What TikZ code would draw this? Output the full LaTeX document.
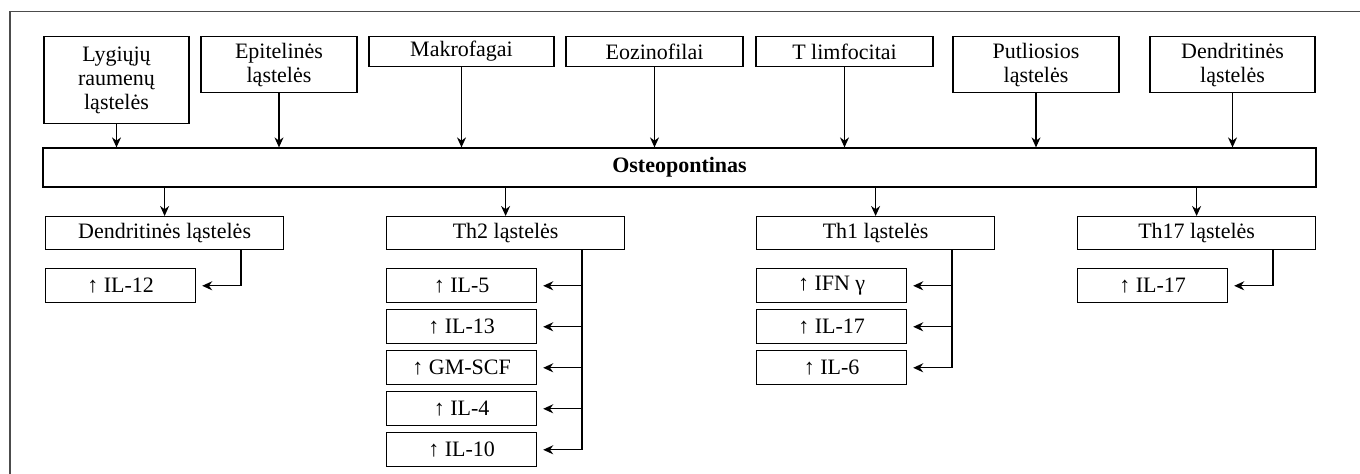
\documentclass[tikz,border=0pt]{standalone}
\usepackage{fontspec}
\setmainfont{Liberation Serif}
\usetikzlibrary{positioning, arrows.meta}
\tikzset{
	cell/.style={
		rectangle,
		draw=black, line width=0.6pt,
		inner sep=2pt,
		align=center,
		font=\fontsize{11}{12}\selectfont,
	},
	source/.style={cell, anchor=north},
	group/.style={cell, anchor=north west, minimum width=119pt, minimum height=16.5pt},
	effect/.style={cell, minimum width=75pt, minimum height=17pt},
}

\begin{document}
\begin{tikzpicture}[->,>={Stealth[length=5pt,width=4.5pt]}, x=0.5pt, y=-0.5pt, line width=0.6pt]
        \useasboundingbox (0,0) rectangle (1360,474);
        \draw[-, black!70, line width=0.7pt] (10,474) -- (10,11.5) -- (1360,11.5);

        % cells that release osteopontin
        \node[source, minimum width=72.5pt, minimum height=43.5pt] (smooth) at (116.5,36) {Lygiųjų\\raumenų\\ląstelės};
        \node[source, minimum width=78pt, minimum height=28pt] (epith) at (279,36) {Epitelinės\\ląstelės};
        \node[source, minimum width=92.5pt, minimum height=15pt] (macro) at (461.5,36) {Makrofagai};
        \node[source, minimum width=88.5pt, minimum height=15pt] (eos) at (654.5,36) {Eozinofilai};
        \node[source, minimum width=88.5pt, minimum height=15pt] (tcell) at (844.5,36) {T limfocitai};
        \node[source, minimum width=83pt, minimum height=28pt] (mast) at (1036,36) {Putliosios\\ląstelės};
        \node[source, minimum width=82.5pt, minimum height=28pt] (dendr) at (1232.5,36) {Dendritinės\\ląstelės};

        \node[cell, minimum width=636.5pt, minimum height=19.5pt] (opn) at (679.5,167.5) {\textbf{Osteopontinas}};

        \foreach \s in {smooth, epith, macro, eos, tcell, mast, dendr}
            \draw (\s) -- (\s |- opn.north);

        % target cells
        \node[group] (dc) at (45,216) {Dendritinės ląstelės};
        \node[group] (th2) at (386,216) {Th2 ląstelės};
        \node[group] (th1) at (756,216) {Th1 ląstelės};
        \node[group] (th17) at (1077,216) {Th17 ląstelės};

        \foreach \g in {dc, th2, th1, th17}
            \draw (\g.north |- opn.south) -- (\g.north);

        % cytokines
        \node[effect, anchor=north west] (dca) at ([yshift=-9pt]dc.south west) {↑ IL-12};

        \node[effect, anchor=north west] (th2a) at ([yshift=-9pt]th2.south west) {↑ IL-5};
        \node[effect, below of=th2a, node distance=20.5pt] (th2b) {↑ IL-13};
        \node[effect, below of=th2b, node distance=20.5pt] (th2c) {↑ GM-SCF};
        \node[effect, below of=th2c, node distance=20.5pt] (th2d) {↑ IL-4};
        \node[effect, below of=th2d, node distance=20.5pt] (th2e) {↑ IL-10};

        \node[effect, anchor=north west] (th1a) at ([yshift=-9pt]th1.south west) {↑ IFN γ};
        \node[effect, below of=th1a, node distance=20.5pt] (th1b) {↑ IL-17};
        \node[effect, below of=th1b, node distance=20.5pt] (th1c) {↑ IL-6};

        \node[effect, anchor=north west] (th17a) at ([yshift=-9pt]th17.south west) {↑ IL-17};

        \coordinate (dcj) at ([xshift=98pt]dc.south west);
        \coordinate (th2j) at ([xshift=98pt]th2.south west);
        \coordinate (th1j) at ([xshift=98pt]th1.south west);
        \coordinate (th17j) at ([xshift=98pt]th17.south west);

        \draw[shorten >=3pt] (dcj) |- (dca);
        \foreach \e in {th2a, th2b, th2c, th2d, th2e}
            \draw[shorten >=3pt] (th2j) |- (\e);
        \foreach \e in {th1a, th1b, th1c}
            \draw[shorten >=3pt] (th1j) |- (\e);
        \draw[shorten >=3pt] (th17j) |- (th17a);
    \end{tikzpicture}
\end{document}
